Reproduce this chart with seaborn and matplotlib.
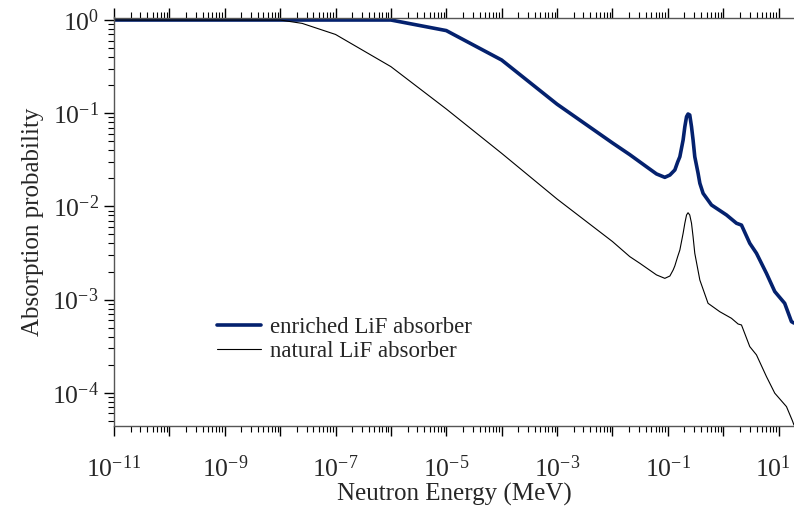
import numpy as np
import pandas as pd
import matplotlib
matplotlib.use("Agg")
import matplotlib.pyplot as plt
import matplotlib.ticker as mticker
import matplotlib.transforms as mtransforms
import seaborn as sns

# ---- data ----
enriched_E = [1e-11, 1e-6, 1e-5, 1e-4, 1e-3, 1e-2, 0.0206, 0.041, 0.0625, 0.0883, 0.109, 0.134, 0.151, 0.165,
              0.189, 0.203, 0.218, 0.232, 0.249, 0.268, 0.286, 0.307, 0.352, 0.379, 0.434,
              0.615, 1.148, 1.74, 2.14, 3.02, 3.99, 6.05, 8.54, 12.9, 17.1, 19.0]
enriched_P = [1.0, 1.0, 0.77, 0.372, 0.125, 0.048, 0.0359, 0.0267, 0.0223, 0.0205, 0.0217, 0.0246, 0.030, 0.0341,
              0.0516, 0.0716, 0.0917, 0.098, 0.0957, 0.0716, 0.0516, 0.0341, 0.0227, 0.0177, 0.0138,
              0.01035, 0.00809, 0.00659, 0.0063, 0.00402, 0.00314, 0.00191, 0.00122, 0.000912, 0.00058, 0.00056]

natural_E = [1e-11, 1e-8, 2.5e-8, 1e-7, 1e-6, 1e-5, 1e-4, 1e-3, 1e-2, 0.0206, 0.0313, 0.0625, 0.0883, 0.109, 0.125,
             0.134, 0.151, 0.165, 0.189, 0.203, 0.218, 0.232, 0.249, 0.268, 0.286, 0.307, 0.379, 0.533,
             0.869, 1.41, 1.86, 2.14, 3.02, 3.99, 6.05, 8.54, 13.9, 17.8, 19.0]
natural_P = [1.0, 1.0, 0.92, 0.70, 0.316, 0.111, 0.0371, 0.0120, 0.0042, 0.00289, 0.00245, 0.00184, 0.00169, 0.00179, 0.00208,
             0.0023, 0.0029, 0.0034, 0.00514, 0.00659, 0.00809, 0.00855, 0.00809, 0.00659, 0.00473, 0.00314, 0.00162, 0.000912,
             0.000741, 0.00063, 0.000547, 0.000534, 0.000313, 0.000255, 0.000149, 9.9e-5, 7.1e-5, 5.0e-5, 4.5e-5]

x_major_exponents = list(range(-11, 2))
y_major_exponents = [-4, -3, -2, -1, 0]

series_names = ["enriched LiF absorber", "natural LiF absorber"]
x_label = "Neutron Energy (MeV)"
y_label = "Absorption probability"

df = pd.concat([
    pd.DataFrame({"E": enriched_E, "P": enriched_P, "series": series_names[0]}),
    pd.DataFrame({"E": natural_E, "P": natural_P, "series": series_names[1]}),
], ignore_index=True)

sns.set_style("ticks")
plt.rcParams["font.family"] = ["Liberation Serif", "DejaVu Serif"]
plt.rcParams["mathtext.fontset"] = "custom"
plt.rcParams["mathtext.rm"] = "Liberation Serif"
plt.rcParams["mathtext.it"] = "Liberation Serif:italic"
plt.rcParams["mathtext.bf"] = "Liberation Serif:bold"
plt.rcParams["axes.unicode_minus"] = False

fig = plt.figure(figsize=(7.94, 5.12), dpi=100)
ax = fig.add_axes([114/794, 86/512, 680/794, 408.5/512])

sns.lineplot(data=df, x="E", y="P", hue="series", size="series",
             palette={series_names[0]: "#04216e", series_names[1]: "black"},
             sizes={series_names[0]: 2.6, series_names[1]: 0.8},
             sort=False, estimator=None, ax=ax, legend=True)

ax.set_xscale("log")
ax.set_yscale("log")
ax.set_xlim(1e-11, 19.0)
ax.set_ylim(4.4e-5, 1.064)

# ticks
x_major = [10.0**e for e in x_major_exponents]
ax.set_xticks(x_major)
ax.set_xticklabels([r"$10^{%d}$" % e if e % 2 != 0 else "" for e in x_major_exponents])
ax.xaxis.set_minor_locator(mticker.LogLocator(base=10, subs=np.arange(2, 10), numticks=200))
ax.xaxis.set_minor_formatter(mticker.NullFormatter())
y_major = [10.0**e for e in y_major_exponents]
ax.set_yticks(y_major)
ax.set_yticklabels([r"$10^{%d}$" % e for e in y_major_exponents])
ax.yaxis.set_minor_locator(mticker.LogLocator(base=10, subs=np.arange(2, 10), numticks=200))
ax.yaxis.set_minor_formatter(mticker.NullFormatter())

ax.tick_params(axis="x", which="major", direction="out", length=7, width=1, top=True,
               labeltop=False, labelsize=18.5, pad=14, color="black")
ax.tick_params(axis="x", which="minor", direction="out", length=4, width=0.8, top=True, color="black")
ax.tick_params(axis="y", which="major", direction="out", length=7, width=1, labelsize=18.5, pad=4, color="black")
ax.tick_params(axis="y", which="minor", direction="out", length=4, width=0.8, color="black")

for s in ["left", "bottom", "top"]:
    ax.spines[s].set_color("#555555")
    ax.spines[s].set_linewidth(1.0)
ax.spines["right"].set_visible(False)

ax.set_xlabel(x_label, fontsize=18, labelpad=1)
ax.set_ylabel(y_label, fontsize=18, labelpad=6)

leg = ax.legend(loc="upper left", bbox_to_anchor=(0.1515, 0.266), frameon=False,
                fontsize=16.5, handlelength=1.9, handletextpad=0.4, labelspacing=0.1,
                borderpad=0, borderaxespad=0)
for h, w in zip(leg.get_lines(), [2.6, 0.8]):
    h.set_linewidth(w)

# keep the right-most tick label inside the canvas
last_tick = ax.get_xticklabels()[-1]
last_tick.set_transform(last_tick.get_transform() +
                        mtransforms.ScaledTranslation(-6/100, 0, fig.dpi_scale_trans))

fig.savefig("out.png", dpi=100)
